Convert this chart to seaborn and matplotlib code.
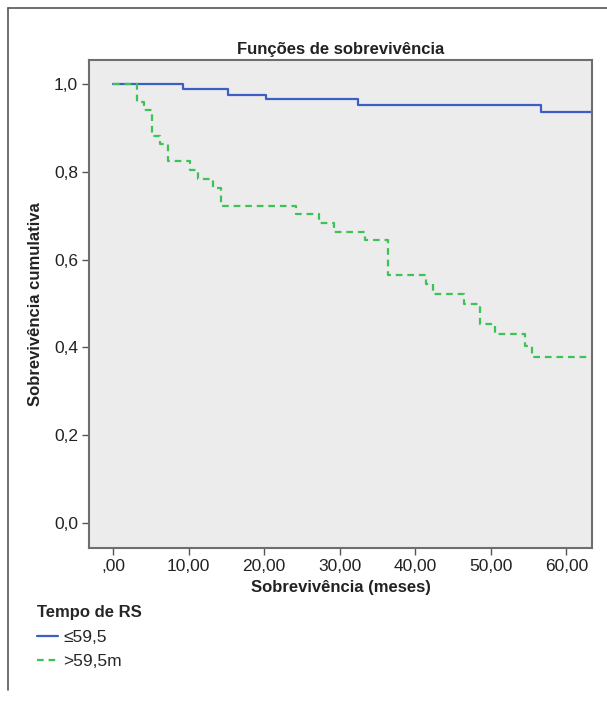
import pandas as pd
import numpy as np
import seaborn as sns
import matplotlib.pyplot as plt
from matplotlib.lines import Line2D

# tempos (meses) e sobrevivência acumulada
tempo_menor = [0, 9.2, 15.2, 20.3, 32.4, 56.6, 64]
surv_menor = [1.0, 0.988, 0.976, 0.965, 0.953, 0.937, 0.937]

tempo_maior = [0, 3.1, 4.1, 5.1, 6.2, 7.2, 10.2, 11.2, 13.2, 14.3, 24.2, 27.3,
               29.3, 33.4, 36.4, 41.4, 42.4, 46.5, 48.6, 50.6, 54.5, 55.5, 64]
surv_maior = [1.0, 0.959, 0.941, 0.882, 0.863, 0.825, 0.804, 0.784, 0.763, 0.723,
              0.703, 0.683, 0.664, 0.644, 0.566, 0.544, 0.521, 0.500, 0.454, 0.430,
              0.404, 0.379, 0.379]

grupos = ["\u226459,5", ">59,5m"]
xticks = [0, 10, 20, 30, 40, 50, 60]
xtick_labels = [",00", "10,00", "20,00", "30,00", "40,00", "50,00", "60,00"]
yticks = [0.0, 0.2, 0.4, 0.6, 0.8, 1.0]
ytick_labels = ["0,0", "0,2", "0,4", "0,6", "0,8", "1,0"]

df = pd.concat([
    pd.DataFrame({"tempo": tempo_menor, "surv": surv_menor, "grupo": grupos[0]}),
    pd.DataFrame({"tempo": tempo_maior, "surv": surv_maior, "grupo": grupos[1]}),
])

sns.set_style("white")
plt.rcParams['font.family'] = ['Liberation Sans', 'DejaVu Sans']

fig = plt.figure(figsize=(6.07, 7.02), dpi=100)
ax = fig.add_axes([89 / 607, 1 - 548 / 702, 503 / 607, 488 / 702])
ax.set_facecolor("#ececec")

cores = {grupos[0]: "#3d5fc4", grupos[1]: "#3ec255"}
tracos = {grupos[0]: "", grupos[1]: (3, 2.2)}
sns.lineplot(data=df, x="tempo", y="surv", hue="grupo", style="grupo",
             palette=cores, dashes=tracos, drawstyle="steps-post",
             estimator=None, linewidth=1.6, ax=ax, legend=False)

ax.set_xlim(-3.2, 63.4)
ax.set_ylim(-0.057, 1.055)
ax.set_xticks(xticks)
ax.set_xticklabels(xtick_labels, fontsize=12.5)
ax.set_yticks(yticks)
ax.set_yticklabels(ytick_labels, fontsize=12.5)
ax.tick_params(axis="both", direction="out", length=5, width=1, color="#555555",
               labelcolor="#222222", left=True, bottom=True, pad=3)
for s in ax.spines.values():
    s.set_color("#6e6e6e")
    s.set_linewidth(1.5)

ax.set_title("Funções de sobrevivência", fontsize=12, fontweight="bold", pad=4, color="#222222")
ax.set_xlabel("Sobrevivência (meses)", fontsize=12, fontweight="bold", labelpad=4, color="#222222")
ax.set_ylabel("Sobrevivência cumulativa", fontsize=12, fontweight="bold", labelpad=8, color="#222222")

handles = [Line2D([], [], color=cores[g], linewidth=1.6) for g in grupos]
handles[1].set_dashes(tracos[grupos[1]])
leg = fig.legend(handles, grupos, title="Tempo de RS", loc="upper left",
                 bbox_to_anchor=(30 / 607, 1 - 598 / 702), frameon=False,
                 fontsize=12.5, title_fontproperties={"size": 12, "weight": "bold"},
                 handlelength=1.2, handletextpad=0.3, labelspacing=0.55,
                 borderaxespad=0, alignment="left")

# moldura externa
fig.add_artist(Line2D([8 / 607, 8 / 607], [1 - 8 / 702, 1 - 690 / 702],
                      transform=fig.transFigure, color="#555555", linewidth=1.2))
fig.add_artist(Line2D([8 / 607, 1.0], [1 - 8 / 702, 1 - 8 / 702],
                      transform=fig.transFigure, color="#555555", linewidth=1.2))

fig.savefig("out.png", dpi=100)
